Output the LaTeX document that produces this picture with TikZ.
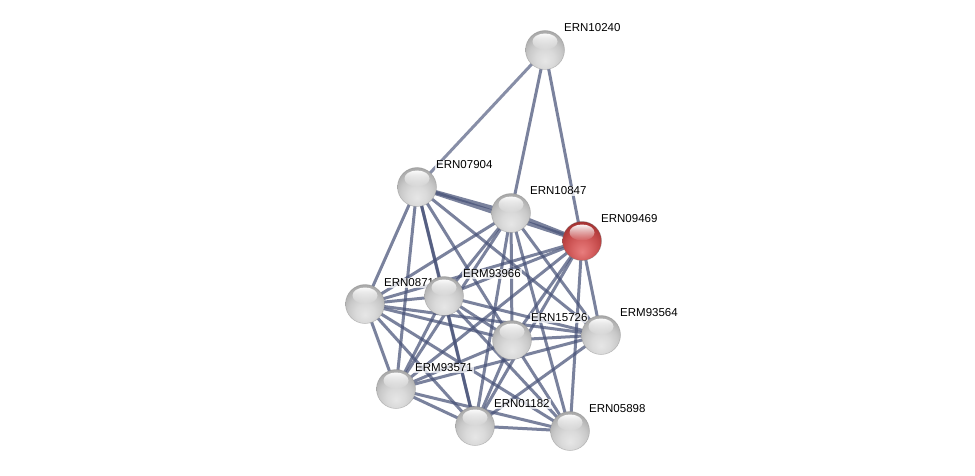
\documentclass[tikz,border=0pt]{standalone}
\usepackage{fontspec}
\setmainfont{Liberation Sans}
\usetikzlibrary{shadings,fadings}
\definecolor{edgec}{RGB}{72,82,120}
\pgfdeclareradialshading{greysphere}{\pgfpoint{0bp}{-14bp}}{%
  color(0bp)=(rgb,255:red,230;green,230;blue,230);
  color(12bp)=(rgb,255:red,218;green,218;blue,218);
  color(22bp)=(rgb,255:red,200;green,200;blue,200);
  color(30bp)=(rgb,255:red,175;green,175;blue,175);
  color(38bp)=(rgb,255:red,145;green,145;blue,145);
  color(46bp)=(rgb,255:red,120;green,120;blue,120);
  color(70bp)=(rgb,255:red,110;green,110;blue,110)}
\pgfdeclareradialshading{redsphere}{\pgfpoint{0bp}{-14bp}}{%
  color(0bp)=(rgb,255:red,232;green,125;blue,125);
  color(12bp)=(rgb,255:red,215;green,98;blue,98);
  color(22bp)=(rgb,255:red,196;green,74;blue,74);
  color(30bp)=(rgb,255:red,172;green,55;blue,55);
  color(38bp)=(rgb,255:red,140;green,38;blue,38);
  color(46bp)=(rgb,255:red,115;green,26;blue,26);
  color(70bp)=(rgb,255:red,105;green,22;blue,22)}
\tikzset{
  x=1pt,y=-1pt,
  edge/.style={draw=edgec,line width=3pt,draw opacity=0.72},
  edgelt/.style={draw=edgec,line width=3pt,draw opacity=0.65},
  edgedbl/.style={draw=edgec,line width=4.2pt,draw opacity=0.72},
  protein/.style={circle,minimum size=39pt,inner sep=0pt,shading=greysphere,draw=black!45,draw opacity=0.5,line width=0.5pt},
  redprot/.style={circle,minimum size=39pt,inner sep=0pt,shading=redsphere,draw=black!55,draw opacity=0.5,line width=0.5pt},
  gloss/.style={fill=white,path fading=south,fill opacity=0.95},
  lbl/.style={anchor=west,font=\fontsize{11.5}{12}\selectfont,fill=white,fill opacity=0.75,text opacity=1,inner sep=1pt}
}
\begin{document}
\begin{tikzpicture}
\fill[white] (0,0) rectangle (975,476);
\useasboundingbox (0,0) rectangle (975,476);
% coordinates of proteins
\coordinate (T) at (545,50);
\coordinate (A) at (417,187);
\coordinate (B) at (511,213);
\coordinate (C) at (582,241);
\coordinate (D) at (365,304);
\coordinate (E) at (444,296);
\coordinate (F) at (512,340);
\coordinate (G) at (601,335);
\coordinate (H) at (396,389);
\coordinate (I) at (475,426);
\coordinate (J) at (570,431);
% edges
\draw[edgelt] (T) -- (A);
\draw[edge] (T) -- (B);
\draw[edge] (T) -- (C);
\draw[edgedbl] (A) -- (B);
\draw[edgedbl] (A) -- (C);
\foreach \b in {D,E,F,G,H,I} \draw[edge] (A) -- (\b);
\draw[edgedbl] (B) -- (C);
\foreach \b in {D,E,F,G,H,I,J} \draw[edge] (B) -- (\b);
\foreach \b in {D,E,F,G,H,I,J} \draw[edge] (C) -- (\b);
\foreach \b in {E,F,G,H,I,J} \draw[edge] (D) -- (\b);
\foreach \b in {F,G,H,I,J} \draw[edge] (E) -- (\b);
\foreach \b in {G,H,I,J} \draw[edge] (F) -- (\b);
\foreach \b in {H,I} \draw[edge] (G) -- (\b);
\foreach \b in {I,J} \draw[edge] (H) -- (\b);
\draw[edge] (I) -- (J);
% labels
\node[lbl] (lT) at (563,28) {ERN10240};
\node[lbl] (lA) at (435,165) {ERN07904};
\node[lbl] (lB) at (529,191) {ERN10847};
\node[lbl] (lC) at (600,219) {ERN09469};
\node[lbl] (lD) at (383,283) {ERN08711};
\node[lbl] (lE) at (462,274) {ERM93966};
\node[lbl] (lF) at (530,318) {ERN15726};
\node[lbl] (lG) at (619,313) {ERM93564};
\node[lbl] (lH) at (414,368) {ERM93571};
\node[lbl] (lI) at (493,404) {ERN01182};
\node[lbl] (lJ) at (588,409) {ERN05898};
% balls
\node[protein] (nT) at (T) {};
\node[protein] (nA) at (A) {};
\node[protein] (nB) at (B) {};
\node[redprot] (nC) at (C) {};
\node[protein] (nD) at (D) {};
\node[protein] (nE) at (E) {};
\node[protein] (nF) at (F) {};
\node[protein] (nG) at (G) {};
\node[protein] (nH) at (H) {};
\node[protein] (nI) at (I) {};
\node[protein] (nJ) at (J) {};
% gloss highlights
\foreach \n in {nT,nA,nB,nC,nD,nE,nF,nG,nH,nI,nJ}
  \fill[gloss] ([yshift=8.5pt]\n.center) ellipse (12.5pt and 8pt);
\end{tikzpicture}
\end{document}
